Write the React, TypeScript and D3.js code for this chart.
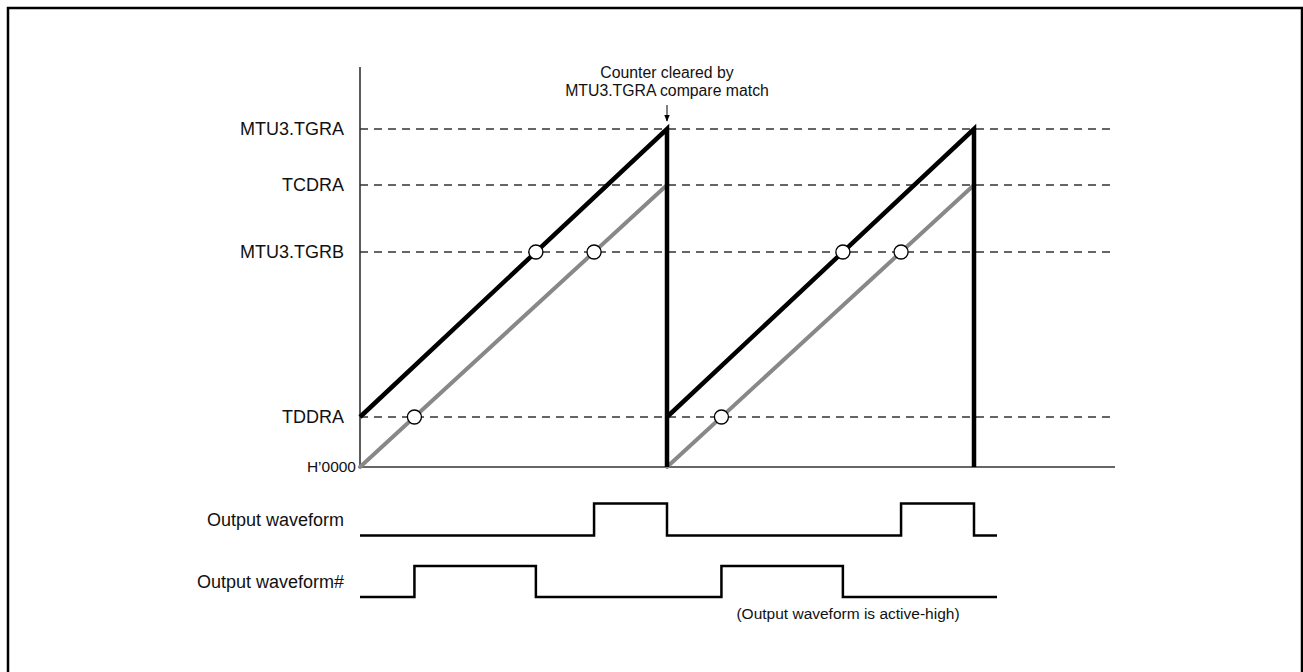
import React from "react";
import * as d3 from "d3";

// ---- data ----
const levelNames = ["MTU3.TGRA", "TCDRA", "MTU3.TGRB", "TDDRA", "H\u20190000"];
const levelValues = [338, 282, 215, 50, 0];
const cycleStarts = [0, 307];
const cyclePeriod = 307;
const timeEnd = 755;
const waveEnd = 637;
const waveNames = ["Output waveform", "Output waveform#"];
const annotationLines = ["Counter cleared by", "MTU3.TGRA compare match"];
const footnote = "(Output waveform is active-high)";

const W = 1303;
const H = 672;

export default function App() {
  const x = d3.scaleLinear().domain([0, timeEnd]).range([360, 1115]);
  const y = d3.scaleLinear().domain([0, 400]).range([467, 67]);

  const TGRA = levelValues[0];
  const TCDRA = levelValues[1];
  const TGRB = levelValues[2];
  const TDDRA = levelValues[3];

  const line = d3
    .line<[number, number]>()
    .x((d) => x(d[0]))
    .y((d) => y(d[1]));

  const cross = (s: number, v0: number, v1: number, lvl: number) =>
    s + ((lvl - v0) / (v1 - v0)) * cyclePeriod;

  const blackPts: [number, number][][] = cycleStarts.map((s) => [
    [s, TDDRA],
    [s + cyclePeriod, TGRA],
    [s + cyclePeriod, 0],
  ]);
  const grayPts: [number, number][][] = cycleStarts.map((s) => [
    [s, 0],
    [s + cyclePeriod, TCDRA],
  ]);

  const circles: [number, number][] = [];
  cycleStarts.forEach((s) => {
    circles.push([cross(s, TDDRA, TGRA, TGRB), TGRB]);
    circles.push([cross(s, 0, TCDRA, TGRB), TGRB]);
    circles.push([cross(s, 0, TCDRA, TDDRA), TDDRA]);
  });

  // waveform high intervals
  const wave1High = cycleStarts.map((s) => [cross(s, 0, TCDRA, TGRB), s + cyclePeriod]);
  const wave2High = cycleStarts.map((s) => [cross(s, 0, TCDRA, TDDRA), cross(s, TDDRA, TGRA, TGRB)]);

  const wavePath = (highs: number[][], yLow: number, yHigh: number) => {
    const pts: [number, number][] = [[x(0), yLow]];
    highs.forEach(([a, b]) => {
      pts.push([x(a), yLow], [x(a), yHigh], [x(b), yHigh], [x(b), yLow]);
    });
    pts.push([x(waveEnd), yLow]);
    return d3.line()(pts) as string;
  };

  const waveRows = [
    { low: 535.5, high: 503.5, highs: wave1High },
    { low: 597, high: 566, highs: wave2High },
  ];

  const font = "Liberation Sans, Arial, sans-serif";
  const clearX = x(cycleStarts[0] + cyclePeriod);

  return (
    <svg
      width={W}
      height={H}
      style={{ position: "absolute", left: 0, top: 0, display: "block" }}
      fontFamily={font}
    >
      <defs>
        <marker id="arr" viewBox="0 0 10 10" refX="9" refY="5" markerWidth="7" markerHeight="7" orient="auto">
          <path d="M0,1 L10,5 L0,9 z" fill="#000" />
        </marker>
      </defs>
      <rect x={8} y={8} width={1294} height={720} fill="#fff" stroke="#000" strokeWidth={2.5} />

      {/* dashed level lines */}
      {levelValues.slice(0, 4).map((v, i) => (
        <line
          key={i}
          x1={x(0)}
          x2={x(timeEnd)}
          y1={y(v)}
          y2={y(v)}
          stroke="#333"
          strokeWidth={1.4}
          strokeDasharray="8,6"
        />
      ))}

      {/* axes */}
      <line x1={x(0)} x2={x(0)} y1={y(400)} y2={y(0)} stroke="#333" strokeWidth={1.6} />
      <line x1={x(0)} x2={x(timeEnd)} y1={y(0)} y2={y(0)} stroke="#333" strokeWidth={1.6} />

      {/* level labels */}
      {levelNames.map((n, i) => (
        <text
          key={n}
          x={i === 4 ? 356 : 344}
          y={y(levelValues[i])}
          dy="0.35em"
          textAnchor="end"
          fontSize={i === 4 ? 15.5 : 18}
          fill="#111"
        >
          {n}
        </text>
      ))}

      {/* gray ramps */}
      {grayPts.map((p, i) => (
        <path key={"g" + i} d={line(p) as string} fill="none" stroke="#888" strokeWidth={4} strokeLinecap="round" />
      ))}
      {/* black ramps */}
      {blackPts.map((p, i) => (
        <path
          key={"b" + i}
          d={line(p) as string}
          fill="none"
          stroke="#000"
          strokeWidth={4.5}
          strokeLinejoin="miter"
          strokeLinecap="butt"
        />
      ))}

      {/* compare-match circles */}
      {circles.map((c, i) => (
        <circle key={i} cx={x(c[0])} cy={y(c[1])} r={7} fill="#fff" stroke="#000" strokeWidth={1.3} />
      ))}

      {/* annotation */}
      {annotationLines.map((t, i) => (
        <text key={t} x={clearX} y={72 + i * 18} dy="0.35em" textAnchor="middle" fontSize={15.8} fill="#111">
          {t}
        </text>
      ))}
      <line x1={clearX} x2={clearX} y1={105} y2={121} stroke="#000" strokeWidth={1} markerEnd="url(#arr)" />

      {/* waveforms */}
      {waveRows.map((r, i) => (
        <g key={i}>
          <text x={344} y={(r.low + r.high) / 2} dy="0.35em" textAnchor="end" fontSize={18} fill="#111">
            {waveNames[i]}
          </text>
          <path d={wavePath(r.highs, r.low, r.high)} fill="none" stroke="#000" strokeWidth={2.5} />
        </g>
      ))}

      <text x={848} y={614} dy="0.35em" textAnchor="middle" fontSize={15.5} fill="#111">
        {footnote}
      </text>
    </svg>
  );
}
